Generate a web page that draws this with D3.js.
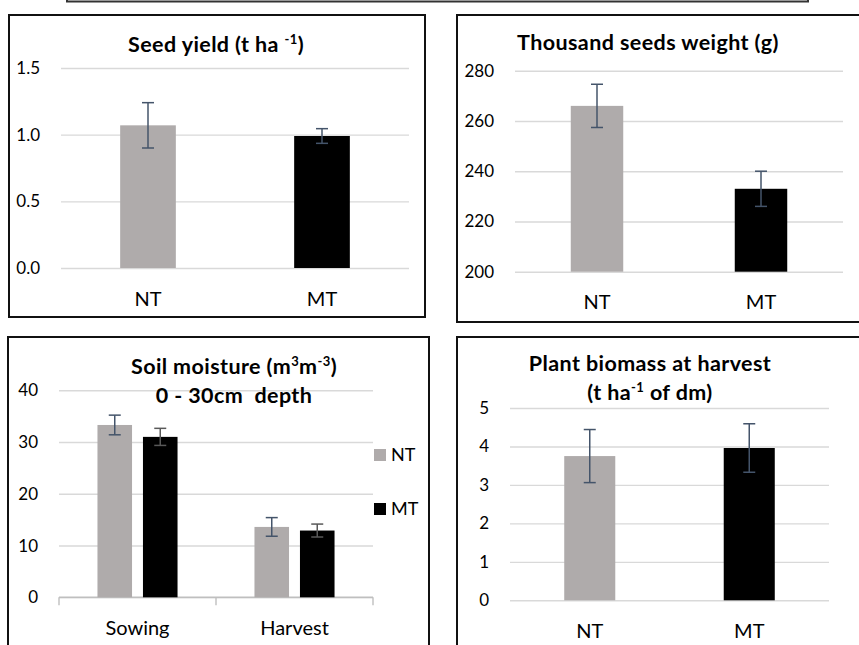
<!DOCTYPE html>
<html>
<head>
<meta charset="utf-8">
<script src="https://cdn.jsdelivr.net/npm/d3@7"></script>
<style>
  html, body { margin: 0; padding: 0; background: #fff; }
  svg { display: block; font-family: Lato, "Open Sans", sans-serif; }
</style>
</head>
<body>
<div id="chart"></div>
<script>
// Treatments / categories
const treatments = ["NT", "MT"];
const stages = ["Sowing", "Harvest"];

// Seed yield (t ha-1)
const seedYield = [1.07, 0.99];
const seedYieldErr = [0.17, 0.055];
const seedTicks = [0, 0.5, 1.0, 1.5];

// Thousand seeds weight (g)
const tsw = [266, 233];
const tswErr = [8.6, 7.0];
const tswTicks = [200, 220, 240, 260, 280];

// Soil moisture 0-30cm (per stage)
const soilNT = [33.3, 13.6];
const soilNTErr = [1.9, 1.8];
const soilMT = [31.0, 12.9];
const soilMTErr = [1.65, 1.25];
const soilTicks = [0, 10, 20, 30, 40];

// Plant biomass at harvest (t ha-1 of dm)
const biomass = [3.75, 3.96];
const biomassErr = [0.69, 0.63];
const biomassTicks = [0, 1, 2, 3, 4, 5];

const W = 859, H = 645;
const colors = { NT: "#afabab", MT: "#000000" };
const errColor = "#44546a";

const svg = d3.select("#chart").append("svg")
    .attr("width", W)
    .attr("height", H);

// cut-off box at the very top
svg.append("rect")
    .attr("x", 67).attr("y", -30)
    .attr("width", 741).attr("height", 31.5)
    .attr("fill", "none")
    .attr("stroke", "#333")
    .attr("stroke-width", 2);

function frame(x0, y0, x1, y1) {
    svg.append("rect")
        .attr("x", x0).attr("y", y0)
        .attr("width", x1 - x0).attr("height", y1 - y0)
        .attr("fill", "none")
        .attr("stroke", "#111")
        .attr("stroke-width", 2);
}

function yAxis(g, y, ticks, fmt, x0, x1) {
    const ax = g.append("g")
        .attr("transform", `translate(${x0},0)`)
        .call(d3.axisLeft(y).tickValues(ticks).tickFormat(fmt)
            .tickSize(-(x1 - x0)).tickPadding(21));
    ax.select(".domain").remove();
    ax.selectAll(".tick line").attr("stroke", "#d9d9d9").attr("stroke-width", 1.4);
    ax.selectAll(".tick text")
        .attr("fill", "#000")
        .style("font-size", "17px")
        .style("font-family", "Lato, 'Open Sans', sans-serif");
    return ax;
}

function xAxis(g, x, yBase, offset) {
    const ax = g.append("g")
        .attr("transform", `translate(0,${yBase})`)
        .call(d3.axisBottom(x).tickSize(0));
    ax.select(".domain").remove();
    ax.selectAll(".tick text")
        .attr("dy", null)
        .attr("y", offset)
        .attr("fill", "#000")
        .style("font-size", "20px")
        .style("font-family", "Lato, 'Open Sans', sans-serif");
    return ax;
}

function errBars(g, xs, y, vals, errs, col) {
    const eb = g.append("g").attr("stroke", col).attr("stroke-width", 1.5).attr("fill", "none");
    vals.forEach((v, i) => {
        const cx = xs[i];
        eb.append("line").attr("x1", cx).attr("x2", cx).attr("y1", y(v + errs[i])).attr("y2", y(v - errs[i]));
        eb.append("line").attr("x1", cx - 6).attr("x2", cx + 6).attr("y1", y(v + errs[i])).attr("y2", y(v + errs[i]));
        eb.append("line").attr("x1", cx - 6).attr("x2", cx + 6).attr("y1", y(v - errs[i])).attr("y2", y(v - errs[i]));
    });
}

// title lines: strings, or {sup: "..."} for superscripts
function title(lines, cx, baselines) {
    lines.forEach((parts, i) => {
        const t = svg.append("text")
            .attr("x", cx).attr("y", baselines[i])
            .attr("text-anchor", "middle")
            .style("font-size", "21.5px")
            .style("letter-spacing", "0.4px")
            .style("font-weight", "bold");
        let lift = 0;
        parts.forEach(p => {
            if (typeof p === "object") {
                t.append("tspan").attr("dy", -8 - lift).style("font-size", "13px").text(p.sup);
                lift = -8;
            } else {
                t.append("tspan").attr("dy", -lift).text(p);
                lift = 0;
            }
        });
    });
}

// simple two-bar panel
function twoBarPanel(box, plot, dom, ticks, fmt, vals, errs, xlabOffset) {
    frame(box[0], box[1], box[2], box[3]);
    const g = svg.append("g");
    const x = d3.scaleBand().domain(treatments).range([plot.x0, plot.x1])
        .paddingInner(0.68).paddingOuter(0.34);
    const y = d3.scaleLinear().domain(dom).range([plot.y0, plot.y1]);
    yAxis(g, y, ticks, fmt, plot.x0, plot.x1);
    g.selectAll(".bar").data(treatments).join("rect")
        .attr("class", "bar")
        .attr("x", d => x(d))
        .attr("width", x.bandwidth())
        .attr("y", (d, i) => y(vals[i]))
        .attr("height", (d, i) => y(dom[0]) - y(vals[i]))
        .attr("fill", d => colors[d]);
    errBars(g, treatments.map(d => x(d) + x.bandwidth() / 2), y, vals, errs, errColor);
    xAxis(g, x, plot.y0, xlabOffset);
}

// Panel 1: seed yield
twoBarPanel([9, 15, 425, 317], { x0: 61, x1: 409, y0: 268, y1: 68 },
    [0, 1.5], seedTicks, d3.format(".1f"), seedYield, seedYieldErr, 38);
title([["Seed yield (t ha ", { sup: "-1" }, ")"]], 216, [52]);

// Panel 2: thousand seeds weight
twoBarPanel([457, 15, 880, 322], { x0: 515, x1: 843, y0: 271.7, y1: 70.7 },
    [200, 280], tswTicks, d3.format("d"), tsw, tswErr, 37);
title([["Thousand seeds weight (g)"]], 648, [50]);

// Panel 3: soil moisture (grouped)
(function () {
    frame(8, 337, 429, 680);
    const plot = { x0: 59, x1: 373, y0: 597.3, y1: 390.3 };
    const g = svg.append("g");
    const x = d3.scaleBand().domain(stages).range([plot.x0, plot.x1])
        .paddingInner(0.49).paddingOuter(0.245);
    const xs = d3.scaleBand().domain(treatments).range([0, x.bandwidth()]).paddingInner(0.24);
    const y = d3.scaleLinear().domain([0, 40]).range([plot.y0, plot.y1]);
    yAxis(g, y, soilTicks, d3.format("d"), plot.x0, plot.x1);
    // category axis line with boundary ticks
    const bounds = d3.range(stages.length + 1).map(i => plot.x0 + i * (plot.x1 - plot.x0) / stages.length);
    g.append("line").attr("x1", plot.x0).attr("x2", plot.x1)
        .attr("y1", y(0)).attr("y2", y(0)).attr("stroke", "#bfbfbf").attr("stroke-width", 1.4);
    g.selectAll(".btick").data(bounds).join("line")
        .attr("class", "btick")
        .attr("x1", d => d).attr("x2", d => d)
        .attr("y1", y(0)).attr("y2", y(0) + 8)
        .attr("stroke", "#bfbfbf").attr("stroke-width", 1.4);

    const series = [
        { key: "NT", vals: soilNT, errs: soilNTErr, ec: errColor },
        { key: "MT", vals: soilMT, errs: soilMTErr, ec: "#595959" }
    ];
    series.forEach(s => {
        g.selectAll(".bar-" + s.key).data(stages).join("rect")
            .attr("class", "bar-" + s.key)
            .attr("x", d => x(d) + xs(s.key))
            .attr("width", xs.bandwidth())
            .attr("y", (d, i) => y(s.vals[i]))
            .attr("height", (d, i) => y(0) - y(s.vals[i]))
            .attr("fill", colors[s.key]);
        errBars(g, stages.map(d => x(d) + xs(s.key) + xs.bandwidth() / 2), y, s.vals, s.errs, s.ec);
    });
    xAxis(g, x, plot.y0, 38);

    // legend
    const lg = svg.append("g").attr("transform", "translate(374,449)");
    treatments.forEach((t, i) => {
        const row = lg.append("g").attr("transform", `translate(0,${i * 54})`);
        row.append("rect").attr("width", 12).attr("height", 12).attr("fill", colors[t]);
        row.append("text").attr("x", 17).attr("y", 12).style("font-size", "18px").text(t);
    });
})();
title([["Soil moisture (m", { sup: "3" }, "m", { sup: "-3" }, ")"], ["0 - 30cm\u00a0 depth"]], 234, [374, 403]);

// Panel 4: plant biomass
twoBarPanel([457, 337, 880, 680], { x0: 510, x1: 829, y0: 600.3, y1: 408 },
    [0, 5], biomassTicks, d3.format("d"), biomass, biomassErr, 38);
title([["Plant biomass at harvest"], ["(t ha", { sup: "-1" }, " of dm)"]], 650, [371, 400]);
</script>
</body>
</html>
